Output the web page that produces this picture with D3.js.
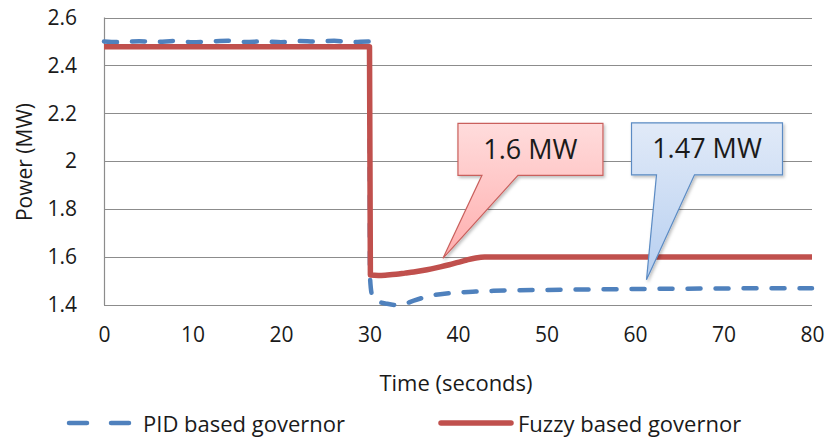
<!DOCTYPE html>
<html>
<head>
<meta charset="utf-8">
<script src="https://cdn.jsdelivr.net/npm/d3@7/dist/d3.min.js"></script>
<style>
  html, body { margin: 0; padding: 0; background: #fff; }
  svg { display: block; font-family: "Open Sans", "Noto Sans", sans-serif; }
</style>
</head>
<body>
<svg id="chart" width="827" height="438"></svg>
<script>
// Governor output power after a load step at t = 30 s
const pidTime = [0, 2, 4, 6, 8, 10, 12, 14, 16, 18, 20, 22, 24, 26, 28, 30,
                 30.05, 30.3, 31, 32, 33, 34, 35, 36, 37, 38, 40, 42, 44, 47, 50, 55, 60, 65, 70, 75, 80];
const pidPower = [2.5, 2.497, 2.501, 2.498, 2.502, 2.497, 2.5, 2.503, 2.498, 2.5, 2.497, 2.502, 2.499, 2.503, 2.497, 2.5,
                  1.52, 1.44, 1.415, 1.405, 1.4, 1.405, 1.418, 1.43, 1.44, 1.445, 1.452, 1.456, 1.459, 1.462, 1.463, 1.465, 1.467, 1.468, 1.469, 1.47, 1.47];

const fuzzyTime = [0, 30, 30.1, 31, 32, 33, 34, 35, 36, 37, 38, 39, 40, 41, 42, 43, 45, 50, 60, 70, 80];
const fuzzyPower = [2.478, 2.478, 1.525, 1.523, 1.525, 1.528, 1.533, 1.538, 1.544, 1.551, 1.559, 1.568, 1.578, 1.588, 1.596, 1.6, 1.6, 1.6, 1.6, 1.6, 1.6];

const xTicks = [0, 10, 20, 30, 40, 50, 60, 70, 80];
const yTicks = [1.4, 1.6, 1.8, 2, 2.2, 2.4, 2.6];
const yTickLabels = ["1.4", "1.6", "1.8", "2", "2.2", "2.4", "2.6"];

const seriesNames = ["PID based governor", "Fuzzy based governor"];

// Callout labels: text and the point each one points at
const calloutText = ["1.6 MW", "1.47 MW"];
const calloutTipTime = [38.3, 61.3];
const calloutTipPower = [1.595, 1.505];

const svg = d3.select("#chart");
const C = { blue: "#4F81BD", red: "#C0504D", grid: "#8c8c8c", text: "#1a1a1a" };

const x = d3.scaleLinear().domain([0, 80]).range([104, 812]);
const y = d3.scaleLinear().domain([1.4, 2.6]).range([305, 17.5]);

// horizontal gridlines
svg.append("g").selectAll("line").data(yTicks).join("line")
  .attr("x1", x(0)).attr("x2", x(80))
  .attr("y1", d => Math.round(y(d)) + 0.5).attr("y2", d => Math.round(y(d)) + 0.5)
  .attr("stroke", C.grid).attr("stroke-width", 1.2);

// left axis line
svg.append("line")
  .attr("x1", x(0) + 0.5).attr("x2", x(0) + 0.5)
  .attr("y1", y(2.6)).attr("y2", y(1.4))
  .attr("stroke", C.grid).attr("stroke-width", 1.2);

// y tick labels
const yAxis = d3.axisLeft(y).tickValues(yTicks).tickSize(0).tickPadding(27)
  .tickFormat((d, i) => yTickLabels[i]);
const gy = svg.append("g").attr("transform", `translate(${x(0)},0)`).call(yAxis);
gy.select(".domain").remove();
gy.selectAll("text").attr("font-size", 21).attr("fill", C.text)
  .attr("font-family", "'Open Sans', sans-serif");

// x tick labels
const xAxis = d3.axisBottom(x).tickValues(xTicks).tickSize(0).tickPadding(22);
const gx = svg.append("g").attr("transform", `translate(0,${y(1.4)})`).call(xAxis);
gx.select(".domain").remove();
gx.selectAll("text").attr("font-size", 21).attr("fill", C.text)
  .attr("font-family", "'Open Sans', sans-serif");

// axis titles
svg.append("text").attr("x", 456).attr("y", 382).attr("text-anchor", "middle")
  .attr("dominant-baseline", "central").attr("font-size", 22).attr("fill", C.text)
  .text("Time (seconds)");
svg.append("text").attr("transform", "translate(24,162) rotate(-90)")
  .attr("text-anchor", "middle").attr("dominant-baseline", "central")
  .attr("font-size", 21).attr("fill", C.text).text("Power (MW)");

// series lines
const line = d3.line().x(d => x(d[0])).y(d => y(d[1])).curve(d3.curveMonotoneX);
const pidData = pidTime.map((t, i) => [t, pidPower[i]]);
const fuzzyData = fuzzyTime.map((t, i) => [t, fuzzyPower[i]]);

svg.append("path").datum(pidData).attr("d", line)
  .attr("fill", "none").attr("stroke", C.blue).attr("stroke-width", 4.5)
  .attr("stroke-linecap", "round").attr("stroke-linejoin", "round")
  .attr("stroke-dasharray", "13,15");

svg.append("path").datum(fuzzyData).attr("d", line)
  .attr("fill", "none").attr("stroke", C.red).attr("stroke-width", 5.5)
  .attr("stroke-linejoin", "round");

// callouts
const defs = svg.append("defs");
const shadow = defs.append("filter").attr("id", "shadow")
  .attr("x", "-10%").attr("y", "-10%").attr("width", "130%").attr("height", "130%");
shadow.append("feDropShadow").attr("dx", 1.5).attr("dy", 2).attr("stdDeviation", 1.5)
  .attr("flood-color", "#000").attr("flood-opacity", 0.25);

const calloutStyle = [
  { top: "#FFDCDC", bottom: "#FFAEAE", stroke: "#C9605D",
    box: { dx0: 15, dx1: 160, dy0: -135, dy1: -83 }, tail: [39, 75] },
  { top: "#E1EAF8", bottom: "#B7CFF0", stroke: "#5B8BC4",
    box: { dx0: -15, dx1: 136, dy0: -157, dy1: -105 }, tail: [10, 48] }
];

calloutText.forEach((txt, i) => {
  const st = calloutStyle[i];
  const tx = x(calloutTipTime[i]), ty = y(calloutTipPower[i]);
  const L = tx + st.box.dx0, R = tx + st.box.dx1, T = ty + st.box.dy0, B = ty + st.box.dy1;
  const gid = "cg" + i;
  const g = defs.append("linearGradient").attr("id", gid)
    .attr("gradientUnits", "userSpaceOnUse")
    .attr("x1", 0).attr("y1", T).attr("x2", 0).attr("y2", ty);
  g.append("stop").attr("offset", 0).attr("stop-color", st.top);
  g.append("stop").attr("offset", 1).attr("stop-color", st.bottom);

  const p = d3.path();
  p.moveTo(L, T); p.lineTo(R, T); p.lineTo(R, B);
  p.lineTo(tx + st.tail[1], B); p.lineTo(tx, ty); p.lineTo(tx + st.tail[0], B);
  p.lineTo(L, B); p.closePath();

  svg.append("path").attr("d", p.toString())
    .attr("fill", `url(#${gid})`).attr("stroke", st.stroke).attr("stroke-width", 1.2)
    .attr("stroke-linejoin", "miter").attr("filter", "url(#shadow)");

  svg.append("text").attr("x", (L + R) / 2).attr("y", (T + B) / 2 - 1)
    .attr("text-anchor", "middle").attr("dominant-baseline", "central")
    .attr("font-size", 27).attr("fill", C.text).text(txt);
});

// legend
const legY = 423;
const leg = svg.append("g");
leg.append("line").attr("x1", 69).attr("x2", 130).attr("y1", legY).attr("y2", legY)
  .attr("stroke", C.blue).attr("stroke-width", 4.5).attr("stroke-linecap", "round")
  .attr("stroke-dasharray", "18,24");
leg.append("text").attr("x", 143).attr("y", legY).attr("dominant-baseline", "central")
  .attr("font-size", 22).attr("fill", C.text).text(seriesNames[0]);
leg.append("line").attr("x1", 441).attr("x2", 511).attr("y1", legY).attr("y2", legY)
  .attr("stroke", C.red).attr("stroke-width", 5.5).attr("stroke-linecap", "round");
leg.append("text").attr("x", 518).attr("y", legY).attr("dominant-baseline", "central")
  .attr("font-size", 22).attr("fill", C.text).text(seriesNames[1]);
</script>
</body>
</html>
